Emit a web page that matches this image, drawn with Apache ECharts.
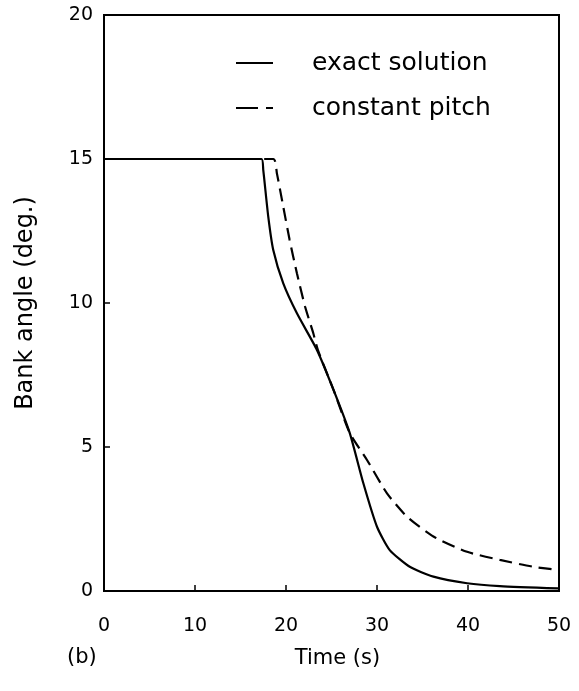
<!DOCTYPE html>
<html>
<head>
<meta charset="utf-8">
<script src="https://cdn.jsdelivr.net/npm/echarts@6/dist/echarts.min.js"></script>
<style>
html,body{margin:0;padding:0;background:#fff;}
#c{width:579px;height:691px;}
</style>
</head>
<body>
<div id="c"></div>
<script>
var xTicks = [0, 10, 20, 30, 40, 50];
var yTicks = [0, 5, 10, 15, 20];
var seriesNames = ['exact solution', 'constant pitch'];
var exactT = [0, 17.3, 17.5, 18.05, 18.6, 19.7, 21.2, 23.4, 25.2, 27.0, 28.5, 30.0, 31.4, 33.6, 36.2, 39.9, 43.5, 49.9];
var exactV = [15, 15, 14.62, 13.0, 11.84, 10.68, 9.64, 8.37, 7.0, 5.49, 3.74, 2.23, 1.42, 0.84, 0.50, 0.27, 0.17, 0.09];
var pitchT = [0, 18.6, 19.0, 19.7, 20.4, 21.2, 22.1, 23.0, 23.5, 25.2, 27.0, 28.9, 31.1, 33.3, 36.2, 39.9, 43.5, 47.2, 49.9];
var pitchV = [15, 15, 14.5, 13.34, 12.19, 11.03, 9.87, 8.95, 8.37, 7.0, 5.49, 4.55, 3.39, 2.58, 1.89, 1.36, 1.08, 0.84, 0.73];

function pairs(t, v) { return t.map(function (x, i) { return [x, v[i]]; }); }

var FONT = 'DejaVu Sans';
var chart = echarts.init(document.getElementById('c'), null, {renderer: 'canvas'});
chart.setOption({
  animation: false,
  backgroundColor: '#fff',
  grid: {left: 104, right: 20, top: 15, bottom: 100, show: true, borderColor: '#000', borderWidth: 2, backgroundColor: 'transparent'},
  legend: {
    orient: 'vertical', left: 235, top: 50, padding: 0, itemWidth: 37, itemHeight: 14, itemGap: 19,
    itemStyle: {opacity: 0},
    textStyle: {fontFamily: FONT, fontSize: 25, lineHeight: 26, color: '#000', padding: [0, 0, 0, 34]},
    data: [
      {name: seriesNames[0]},
      {name: seriesNames[1], lineStyle: {type: [22, 8]}}
    ]
  },
  xAxis: {
    type: 'value', min: xTicks[0], max: xTicks[xTicks.length - 1], interval: 10,
    name: 'Time (s)', nameLocation: 'middle', nameGap: 57,
    nameTextStyle: {fontFamily: FONT, fontSize: 21, color: '#000', padding: [0, 0, 0, 12]},
    axisLine: {show: false},
    axisTick: {show: true, inside: true, length: 6, lineStyle: {color: '#000', width: 1.5}},
    axisLabel: {margin: 26, fontFamily: FONT, fontSize: 19, color: '#000'},
    splitLine: {show: false}
  },
  yAxis: {
    type: 'value', min: yTicks[0], max: yTicks[yTicks.length - 1], interval: 5,
    name: 'Bank angle (deg.)', nameLocation: 'middle', nameGap: 66,
    nameTextStyle: {fontFamily: FONT, fontSize: 24, color: '#000'},
    axisLine: {show: false},
    axisTick: {show: true, inside: true, length: 6, lineStyle: {color: '#000', width: 1.5}},
    axisLabel: {margin: 11, fontFamily: FONT, fontSize: 19, color: '#000'},
    splitLine: {show: false}
  },
  graphic: [{type: 'text', left: 67, top: 647, style: {text: '(b)', fontFamily: FONT, fontSize: 21, fill: '#000'}}],
  series: [
    {name: seriesNames[0], type: 'line', data: pairs(exactT, exactV), symbol: 'none', smooth: 0.2,
     lineStyle: {color: '#000', width: 2.2, type: 'solid'}, itemStyle: {color: '#000'}},
    {name: seriesNames[1], type: 'line', data: pairs(pitchT, pitchV), symbol: 'none', smooth: 0.2,
     lineStyle: {color: '#000', width: 2.2, type: [13, 7]}, itemStyle: {color: '#000'}}
  ]
});
</script>
</body>
</html>
